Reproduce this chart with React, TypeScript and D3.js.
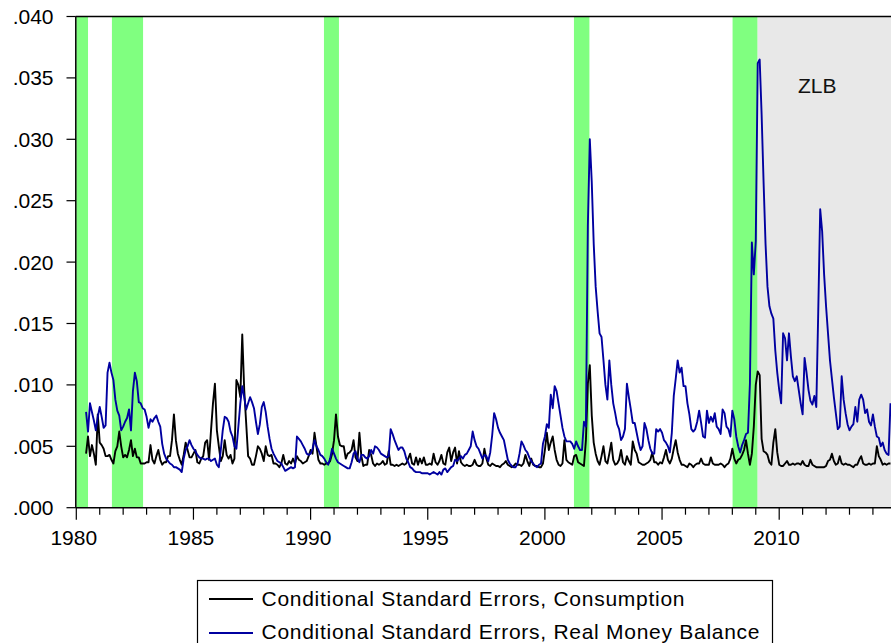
import React from "react";
import * as d3 from "d3";

const W = 891;
const H = 643;

// monthly observations, the first one is June 1980
const startYear = 1980;
const startMonth = 6;

const consumption = [
  // 1980
  .0044, .0058, .0042, .0051, .0044, .0035, .0076,
  // 1981
  .0053, .0051, .0048, .0042, .0042, .0043, .0039, .0036, .0046, .0050, .0062, .0050,
  // 1982
  .0041, .0043, .0041, .0047, .0055, .0042, .0048, .0041, .0041, .0036, .0036, .0036,
  // 1983
  .0037, .0037, .0051, .0039, .0036, .0042, .0047, .0039, .0035, .0037, .0037, .0042,
  // 1984
  .0042, .0055, .0076, .0055, .0044, .0039, .0035, .0043, .0053, .0047, .0041, .0041,
  // 1985
  .0044, .0047, .0037, .0036, .0040, .0042, .0053, .0055, .0039, .0063, .0085, .0101,
  // 1986
  .0063, .0050, .0038, .0042, .0055, .0043, .0040, .0043, .0036, .0040, .0104, .0100,
  // 1987
  .0090, .0141, .0096, .0069, .0042, .0040, .0035, .0035, .0042, .0050, .0048, .0044,
  // 1988
  .0038, .0050, .0043, .0042, .0043, .0036, .0036, .0035, .0033, .0036, .0043, .0036,
  // 1989
  .0035, .0038, .0036, .0040, .0036, .0042, .0039, .0038, .0036, .0037, .0038, .0042,
  // 1990
  .0047, .0044, .0061, .0050, .0039, .0036, .0036, .0035, .0036, .0036, .0038, .0044,
  // 1991
  .0055, .0076, .0058, .0051, .0050, .0050, .0040, .0044, .0045, .0047, .0055, .0041,
  // 1992
  .0038, .0061, .0042, .0034, .0035, .0035, .0047, .0043, .0036, .0034, .0036, .0035,
  // 1993
  .0036, .0038, .0035, .0036, .0046, .0035, .0035, .0034, .0035, .0034, .0035, .0036,
  // 1994
  .0035, .0036, .0040, .0044, .0036, .0035, .0041, .0035, .0040, .0036, .0041, .0035,
  // 1995
  .0035, .0036, .0035, .0044, .0037, .0035, .0038, .0043, .0036, .0035, .0045, .0049,
  // 1996
  .0038, .0045, .0049, .0036, .0046, .0037, .0035, .0034, .0035, .0034, .0034, .0035,
  // 1997
  .0039, .0035, .0034, .0034, .0036, .0048, .0040, .0035, .0034, .0036, .0035, .0034,
  // 1998
  .0034, .0033, .0035, .0036, .0038, .0035, .0034, .0033, .0034, .0036, .0035, .0035,
  // 1999
  .0034, .0036, .0043, .0038, .0034, .0040, .0035, .0034, .0034, .0033, .0033, .0036,
  // 2000
  .0047, .0061, .0047, .0053, .0058, .0047, .0039, .0035, .0034, .0036, .0055, .0039,
  // 2001
  .0037, .0036, .0035, .0042, .0043, .0037, .0036, .0035, .0034, .0055, .0101, .0116,
  // 2002
  .0075, .0053, .0044, .0038, .0035, .0042, .0050, .0038, .0036, .0044, .0053, .0039,
  // 2003
  .0035, .0036, .0039, .0047, .0037, .0035, .0042, .0038, .0035, .0054, .0047, .0044,
  // 2004
  .0037, .0036, .0035, .0035, .0036, .0037, .0039, .0045, .0037, .0037, .0035, .0037,
  // 2005
  .0036, .0041, .0047, .0039, .0036, .0040, .0048, .0055, .0045, .0039, .0035, .0035,
  // 2006
  .0034, .0033, .0036, .0035, .0033, .0035, .0036, .0036, .0040, .0036, .0035, .0035,
  // 2007
  .0035, .0041, .0036, .0035, .0035, .0035, .0036, .0035, .0033, .0035, .0036, .0040,
  // 2008
  .0048, .0040, .0036, .0039, .0040, .0043, .0047, .0055, .0044, .0035, .0044, .0066,
  // 2009
  .0100, .0111, .0108, .0056, .0046, .0045, .0043, .0037, .0035, .0053, .0064, .0045,
  // 2010
  .0035, .0034, .0034, .0036, .0038, .0035, .0035, .0036, .0035, .0036, .0036, .0035,
  // 2011
  .0038, .0035, .0034, .0034, .0039, .0035, .0034, .0033, .0033, .0033, .0033, .0033,
  // 2012
  .0034, .0038, .0039, .0044, .0038, .0035, .0036, .0042, .0036, .0035, .0036, .0035,
  // 2013
  .0035, .0034, .0033, .0035, .0035, .0039, .0042, .0036, .0035, .0035, .0036, .0035,
  // 2014
  .0036, .0036, .0050, .0042, .0039, .0035, .0036, .0035, .0036, .0036,
];

const moneyBalance = [
  // 1980
  .0078, .0062, .0085, .0078, .0071, .0063, .0074,
  // 1981
  .0082, .0074, .0065, .0067, .0110, .0118, .0110, .0104, .0088, .0079, .0075, .0063,
  // 1982
  .0066, .0070, .0073, .0080, .0063, .0095, .0110, .0103, .0086, .0085, .0081, .0080,
  // 1983
  .0074, .0065, .0072, .0070, .0073, .0075, .0070, .0066, .0052, .0044, .0040, .0038,
  // 1984
  .0036, .0035, .0033, .0033, .0032, .0031, .0029, .0040, .0047, .0050, .0055, .0051,
  // 1985
  .0048, .0046, .0043, .0041, .0040, .0040, .0039, .0040, .0040, .0038, .0039, .0040,
  // 1986
  .0035, .0033, .0047, .0063, .0074, .0073, .0070, .0062, .0058, .0050, .0048, .0066,
  // 1987
  .0085, .0099, .0090, .0080, .0085, .0090, .0086, .0081, .0070, .0060, .0068, .0082,
  // 1988
  .0086, .0078, .0066, .0056, .0048, .0044, .0041, .0038, .0037, .0036, .0033, .0030,
  // 1989
  .0031, .0032, .0033, .0032, .0033, .0058, .0056, .0054, .0051, .0048, .0044, .0043,
  // 1990
  .0044, .0048, .0055, .0050, .0047, .0043, .0042, .0040, .0037, .0035, .0040, .0048,
  // 1991
  .0044, .0040, .0037, .0036, .0035, .0034, .0033, .0032, .0032, .0037, .0044, .0046,
  // 1992
  .0040, .0037, .0043, .0043, .0041, .0040, .0042, .0047, .0044, .0050, .0049, .0047,
  // 1993
  .0044, .0043, .0042, .0041, .0042, .0064, .0060, .0055, .0051, .0047, .0049, .0049,
  // 1994
  .0046, .0040, .0037, .0033, .0032, .0030, .0029, .0029, .0029, .0028, .0028, .0028,
  // 1995
  .0028, .0027, .0028, .0029, .0028, .0027, .0029, .0027, .0031, .0032, .0029, .0031,
  // 1996
  .0033, .0034, .0039, .0038, .0040, .0042, .0040, .0043, .0044, .0047, .0050, .0062,
  // 1997
  .0055, .0050, .0048, .0044, .0040, .0043, .0042, .0038, .0045, .0059, .0077, .0072,
  // 1998
  .0065, .0061, .0058, .0055, .0047, .0039, .0036, .0034, .0033, .0033, .0036, .0044,
  // 1999
  .0054, .0051, .0047, .0045, .0041, .0038, .0036, .0034, .0033, .0035, .0036, .0052,
  // 2000
  .0058, .0068, .0065, .0092, .0081, .0099, .0095, .0085, .0075, .0065, .0058, .0054,
  // 2001
  .0054, .0054, .0052, .0048, .0054, .0050, .0047, .0047, .0070, .0066, .0230, .0300,
  // 2002
  .0265, .0215, .0180, .0160, .0142, .0139, .0120, .0100, .0088, .0120, .0100, .0085,
  // 2003
  .0077, .0068, .0064, .0055, .0058, .0064, .0101, .0090, .0080, .0069, .0069, .0061,
  // 2004
  .0053, .0047, .0050, .0069, .0064, .0055, .0048, .0044, .0044, .0064, .0062, .0064,
  // 2005
  .0061, .0055, .0053, .0050, .0045, .0061, .0091, .0105, .0120, .0110, .0114, .0099,
  // 2006
  .0099, .0085, .0076, .0064, .0062, .0064, .0070, .0079, .0069, .0058, .0057, .0079,
  // 2007
  .0069, .0074, .0070, .0077, .0066, .0064, .0060, .0080, .0077, .0066, .0064, .0058,
  // 2008
  .0079, .0072, .0058, .0050, .0045, .0051, .0055, .0060, .0061, .0101, .0216, .0190,
  // 2009
  .0217, .0362, .0365, .0320, .0265, .0215, .0180, .0164, .0158, .0154, .0128, .0110,
  // 2010
  .0096, .0085, .0142, .0138, .0120, .0142, .0123, .0107, .0103, .0107, .0096, .0085,
  // 2011
  .0076, .0122, .0110, .0096, .0087, .0084, .0091, .0082, .0160, .0243, .0225, .0190,
  // 2012
  .0164, .0142, .0120, .0105, .0090, .0077, .0064, .0066, .0107, .0088, .0077, .0068,
  // 2013
  .0063, .0066, .0068, .0082, .0070, .0088, .0092, .0088, .0077, .0080, .0070, .0067,
  // 2014
  .0076, .0066, .0058, .0057, .0050, .0053, .0047, .0044, .0043, .0085,
];

const yTicks = [0, .005, .010, .015, .020, .025, .030, .035, .040];
const labelYears = [1980, 1985, 1990, 1995, 2000, 2005, 2010];
const recessions = [
  [1980.0, 1980.5],
  [1981.52, 1982.85],
  [1990.57, 1991.21],
  [2001.24, 2001.9],
  [2008.01, 2009.07],
];
const zlbStart = 2009.07;
const seriesNames = [
  "Conditional Standard Errors, Consumption",
  "Conditional Standard Errors, Real Money Balance",
];

const FONT = "'Liberation Sans', Arial, Helvetica, sans-serif";
const BLUE = "#0000a0";

export default function App() {
  const left = 76.3;
  const top = 16.5;
  const bottom = 507.7;
  const pxPerYear = 23.43;

  const x = d3.scaleLinear().domain([1980, 2015]).range([left, left + 35 * pxPerYear]);
  const y = d3.scaleLinear().domain([0, 0.04]).range([bottom, top]);

  const when = (i: number) => startYear + (startMonth - 1 + i) / 12;
  const path = d3
    .line<number>()
    .x((d, i) => x(when(i)))
    .y((d) => y(d));

  const fmt = (v: number) => d3.format(".3f")(v).replace(/^0/, "");
  const minorYears = d3.range(1980, 2015);

  return (
    <div style={{ position: "absolute", left: 0, top: 0 }}>
      <svg width={W} height={H} style={{ display: "block", background: "#fff" }} fontFamily={FONT}>
        {/* ZLB period */}
        <rect x={x(zlbStart)} y={top} width={W - x(zlbStart) + 10} height={bottom - top} fill="#e8e8e8" />
        {/* recession bands */}
        {recessions.map(([a, b], i) => (
          <rect key={i} x={x(a)} y={top} width={x(b) - x(a)} height={bottom - top} fill="#80ff80" />
        ))}

        <path d={path(consumption) || ""} fill="none" stroke="#000" strokeWidth={1.9} strokeLinejoin="round" />
        <path d={path(moneyBalance) || ""} fill="none" stroke={BLUE} strokeWidth={1.9} strokeLinejoin="round" />

        {/* frame */}
        <line x1={left - 0.5} x2={W} y1={top} y2={top} stroke="#000" strokeWidth={1.5} />
        <line x1={left - 0.5} x2={left - 0.5} y1={top} y2={bottom} stroke="#000" strokeWidth={1.5} />
        <line x1={left - 0.5} x2={W} y1={bottom} y2={bottom} stroke="#000" strokeWidth={1.5} />

        {/* y axis */}
        {yTicks.map((v) => (
          <g key={v}>
            <line x1={66.5} x2={left - 0.5} y1={y(v)} y2={y(v)} stroke="#000" strokeWidth={1.2} />
            <text x={53.5} y={y(v)} dy="0.36em" textAnchor="end" fontSize={21} fill="#000">
              {fmt(v)}
            </text>
          </g>
        ))}

        {/* x axis */}
        {minorYears.map((yr) => (
          <line
            key={yr}
            x1={x(yr)}
            x2={x(yr)}
            y1={bottom}
            y2={yr % 5 === 0 ? bottom + 12 : bottom + 7}
            stroke="#000"
            strokeWidth={1.2}
          />
        ))}
        {labelYears.map((yr) => (
          <text key={yr} x={x(yr) - 2.5} y={545} textAnchor="middle" fontSize={21} fill="#000">
            {yr}
          </text>
        ))}

        <text x={798} y={92.7} fontSize={21} fill="#111">
          ZLB
        </text>

        {/* legend */}
        <rect x={197.5} y={580.5} width={575} height={90} fill="#fff" stroke="#000" strokeWidth={1.2} />
        <line x1={209} x2={253} y1={599} y2={599} stroke="#000" strokeWidth={1.8} />
        <line x1={209} x2={253} y1={633} y2={633} stroke={BLUE} strokeWidth={1.8} />
        <text x={261.5} y={606} fontSize={21} textLength={423} lengthAdjust="spacing" fill="#000">
          {seriesNames[0]}
        </text>
        <text x={261.5} y={638.5} fontSize={21} textLength={498} lengthAdjust="spacing" fill="#000">
          {seriesNames[1]}
        </text>
      </svg>
    </div>
  );
}
